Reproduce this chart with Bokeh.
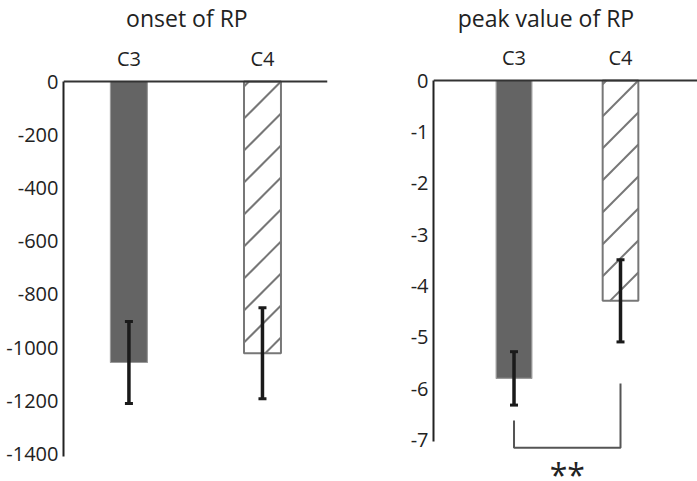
import math
from bokeh.plotting import figure
from bokeh.models import (ColumnDataSource, FixedTicker, Whisker, TeeHead, Range1d, Span)
from bokeh.layouts import row
from bokeh.embed import file_html
from bokeh.resources import INLINE
from bokeh.core.properties import value

# ---------------- data ----------------
categories = ["C3", "C4"]
cat_pos = [0, 1]

onset_title = "onset of RP"
onset_mean = [-1056, -1021]
onset_err = [154, 171]
onset_ticks = [0, -200, -400, -600, -800, -1000, -1200, -1400]

peak_title = "peak value of RP"
peak_mean = [-5.80, -4.29]
peak_err = [0.52, 0.80]
peak_ticks = [0, -1, -2, -3, -4, -5, -6, -7]

sig_label = "**"
sig_bracket_x = [0, 0, 1, 1]
sig_bracket_y = [-6.62, -7.15, -7.15, -5.90]

FONT = "Open Sans"
TXT = "#222222"
HATCH = "#777777"
H = 481


def hatch_lines(xc, bottom, bar_w, px_x, px_y, spacing=32.0):
    """45-degree '/' hatch lines clipped to a bar spanning [bottom, 0]."""
    W = bar_w * px_x
    Hb = abs(bottom) * px_y
    x0s, y0s, x1s, y1s = [], [], [], []
    for k in range(-math.ceil(W / spacing), math.ceil(Hb / spacing) + 1):
        c = W + k * spacing
        lo = max(0.0, c - Hb)
        hi = min(W, c)
        if hi - lo <= 0.5:
            continue
        for u, lx, ly in ((lo, x0s, y0s), (hi, x1s, y1s)):
            lx.append(xc - bar_w / 2 + u / px_x)
            ly.append(-(c - u) / px_y)
    return x0s, y0s, x1s, y1s


def panel(width, bl, br, xr, zero_px, px_y, ybounds, means, errs, ticks,
          bar_w, title, title_x):
    yr = (-(H - zero_px) / px_y, zero_px / px_y)
    p = figure(width=width, height=H, output_backend="svg", toolbar_location=None,
               x_range=Range1d(*xr), y_range=Range1d(*yr),
               x_axis_location=None, min_border_left=bl, min_border_right=br,
               min_border_top=0, min_border_bottom=0)
    p.outline_line_color = None
    p.xgrid.visible = False
    p.ygrid.visible = False
    p.background_fill_color = "white"
    p.border_fill_color = "white"

    frame_w = width - bl - br
    px_x = frame_w / (xr[1] - xr[0])

    src = ColumnDataSource(dict(
        x=cat_pos,
        upper=[m + e for m, e in zip(means, errs)],
        lower=[m - e for m, e in zip(means, errs)],
    ))
    solid = ColumnDataSource(dict(x=[cat_pos[0]], bottom=[means[0]]))
    hatched = ColumnDataSource(dict(x=[cat_pos[1]], bottom=[means[1]]))
    p.vbar(x="x", top=0, bottom="bottom", width=bar_w, source=solid,
           fill_color="#646464", line_color="#9a9a9a", line_width=1.2)
    p.vbar(x="x", top=0, bottom="bottom", width=bar_w, source=hatched,
           fill_color="white", line_color=None)
    hx0, hy0, hx1, hy1 = hatch_lines(cat_pos[1], means[1], bar_w, px_x, px_y)
    p.segment(x0=hx0, y0=hy0, x1=hx1, y1=hy1, line_color=HATCH, line_width=2)
    p.vbar(x="x", top=0, bottom="bottom", width=bar_w, source=hatched,
           fill_color=None, line_color=HATCH, line_width=2)

    w = Whisker(base="x", upper="upper", lower="lower", source=src,
                line_color="#1a1a1a", line_width=3.5, level="overlay",
                upper_head=TeeHead(size=8, line_color="#1a1a1a", line_width=3),
                lower_head=TeeHead(size=8, line_color="#1a1a1a", line_width=3))
    p.add_layout(w)

    # horizontal zero axis line at the top
    p.add_layout(Span(location=0, dimension="width", line_color="#333333", line_width=2))

    # category labels above the zero line
    p.text(x=cat_pos, y=[0, 0], text=categories, text_font=value(FONT),
           text_font_size="20px", text_align="center", text_baseline="alphabetic",
           y_offset=-23, text_color=TXT)
    # panel title (kept fully inside the canvas)
    p.text(x=[title_x], y=[0], text=[title], text_font=value(FONT),
           text_font_size="23px", text_align="center", text_baseline="top",
           y_offset=-(zero_px - 1), text_color=TXT)

    ya = p.yaxis[0]
    ya.ticker = FixedTicker(ticks=ticks)
    ya.major_label_overrides = {t: str(t) for t in ticks}
    ya.bounds = ybounds
    ya.major_tick_line_color = None
    ya.major_tick_out = 0
    ya.major_tick_in = 0
    ya.minor_tick_line_color = None
    ya.axis_line_width = 2
    ya.axis_line_color = "#222222"
    ya.major_label_text_font = FONT
    ya.major_label_text_font_size = "20px"
    ya.major_label_text_color = TXT
    ya.major_label_standoff = 5
    return p


p1 = panel(350, 63, 23, (-0.49, 1.487), 81, 0.2661, (-1409, 0),
           onset_mean, onset_err, onset_ticks, 0.277, onset_title, 0.434)

p2 = panel(347, 83, 0, (-0.756, 1.723), 80, 51.36, (-7.02, 0),
           peak_mean, peak_err, peak_ticks, 0.335, peak_title, 0.30)

p2.multi_line(xs=[sig_bracket_x], ys=[sig_bracket_y], line_color="#555555", line_width=2)
p2.text(x=[0.5], y=[sig_bracket_y[1]], text=[sig_label], text_font=value(FONT),
        text_font_size="32px", text_align="center", text_baseline="top",
        y_offset=5, text_color=TXT)

layout = row(p1, p2)
open("out.html", "w").write(file_html(layout, INLINE))
